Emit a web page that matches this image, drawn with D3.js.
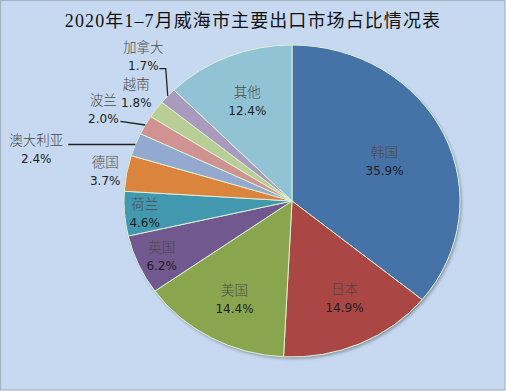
<!DOCTYPE html>
<head>
<meta charset="utf-8">
<script src="https://d3js.org/d3.v7.min.js"></script>
</head>
<style>
  body { margin: 0; background: #fff; }
  svg { display: block; }
</style>
<body>
<svg id="chart" width="506" height="391"></svg>
<script>
// data
const countries = ["韩国", "日本", "美国", "英国", "荷兰", "德国", "澳大利亚", "波兰", "越南", "加拿大", "其他"];
const shares = [35.9, 14.9, 14.4, 6.2, 4.6, 3.7, 2.4, 2.0, 1.8, 1.7, 12.4];
const colors = ["#4572a7", "#aa4643", "#89a54e", "#71588f", "#4198af", "#db843d", "#93a9cf", "#d19392", "#b9cd96", "#a99bbd", "#92c3d5"];

// where each label sits: fraction of radius along the slice middle, plus angle nudge (deg)
const labelPlace = {
  "韩国": {k: 0.61, da: 0}, "日本": {k: 0.69, da: -3}, "美国": {k: 0.71, da: 0},
  "英国": {k: 0.85, da: 0}, "荷兰": {k: 0.88, da: 0}, "德国": {k: 1.13, da: 0},
  "澳大利亚": {k: 1.56, da: -8.6, line: "h"}, "波兰": {k: 1.27, da: -1.3, line: "d"},
  "越南": {k: 1.16, da: 1}, "加拿大": {k: 1.29, da: 4.4, line: "v"}, "其他": {k: 0.7, da: 0}
};

const svg = d3.select("#chart");
const W = 506, H = 391;

svg.append("rect")
  .attr("x", 0.5).attr("y", 0.5).attr("width", W - 1.5).attr("height", H - 1.5)
  .attr("fill", "#c6d9f0").attr("stroke", "#a3b3c6").attr("stroke-width", 1.2);

svg.append("text")
  .attr("x", 253).attr("y", 27)
  .attr("text-anchor", "middle")
  .style("font-family", "'Liberation Serif', 'Noto Sans CJK SC', serif")
  .style("font-size", "18px")
  .style("letter-spacing", "1.1px")
  .style("fill", "#111")
  .text("2020年1–7月威海市主要出口市场占比情况表");

const cx = 292, cy = 201, r = 156, sx = 168 / 156;

const defs = svg.append("defs");
const f = defs.append("filter").attr("id", "shadow").attr("x", "-20%").attr("y", "-20%").attr("width", "140%").attr("height", "140%");
f.append("feDropShadow").attr("dx", 1.5).attr("dy", 2).attr("stdDeviation", 1.5).attr("flood-color", "#000").attr("flood-opacity", 0.3);

const data = countries.map((c, i) => ({name: c, value: shares[i], color: colors[i]}));

const pie = d3.pie().value(d => d.value).sort(null);
const arcs = pie(data);
const arc = d3.arc().innerRadius(0).outerRadius(r);

const g = svg.append("g")
  .attr("transform", `translate(${cx},${cy}) scale(${sx},1)`);

g.append("circle").attr("r", r).attr("fill", "#c6d9f0").attr("filter", "url(#shadow)");

g.selectAll("path")
  .data(arcs)
  .join("path")
    .attr("d", arc)
    .attr("fill", d => d.data.color)
    .attr("stroke", "#dcf0d4")
    .attr("stroke-width", 1)
    .attr("vector-effect", "non-scaling-stroke");

// screen position of a point at angle a (radians, from 12 o'clock clockwise) and radius rr
function pt(a, rr) {
  return [cx + sx * rr * Math.sin(a), cy - rr * Math.cos(a)];
}

const labels = svg.append("g");
arcs.forEach(d => {
  const p = labelPlace[d.data.name];
  const mid = (d.startAngle + d.endAngle) / 2;
  const [lx, ly] = pt(mid + p.da * Math.PI / 180, p.k * r);
  const t = labels.append("text")
    .attr("x", lx).attr("y", ly)
    .attr("text-anchor", "middle");
  t.append("tspan")
    .attr("x", lx).attr("dy", -3)
    .style("font-family", "'Noto Sans CJK SC', sans-serif")
    .style("font-size", "13.5px")
    .style("font-weight", 300)
    .style("fill", "#4a4a4a")
    .text(d.data.name);
  t.append("tspan")
    .attr("x", lx).attr("dy", 18)
    .style("font-family", "'DejaVu Sans', sans-serif")
    .style("font-size", "12px")
    .style("fill", "#1e1e1e")
    .text(d3.format(".1f")(d.data.value) + "%");

  // leader lines for the crowded small slices
  if (p.line) {
    const [ex, ey] = pt(mid, r);
    let pts;
    if (p.line === "h") pts = [[ex, ey], [lx + 32, ey]];
    else if (p.line === "d") pts = [[ex, ey], [lx + 17, ly + 13]];
    else pts = [[ex, ey], [ex - 2, ly + 14], [lx + 16, ly + 14]];
    labels.append("path")
      .attr("d", d3.line()(pts))
      .attr("fill", "none")
      .attr("stroke", "#222")
      .attr("stroke-width", 1.3);
  }
});
</script>
</body>
